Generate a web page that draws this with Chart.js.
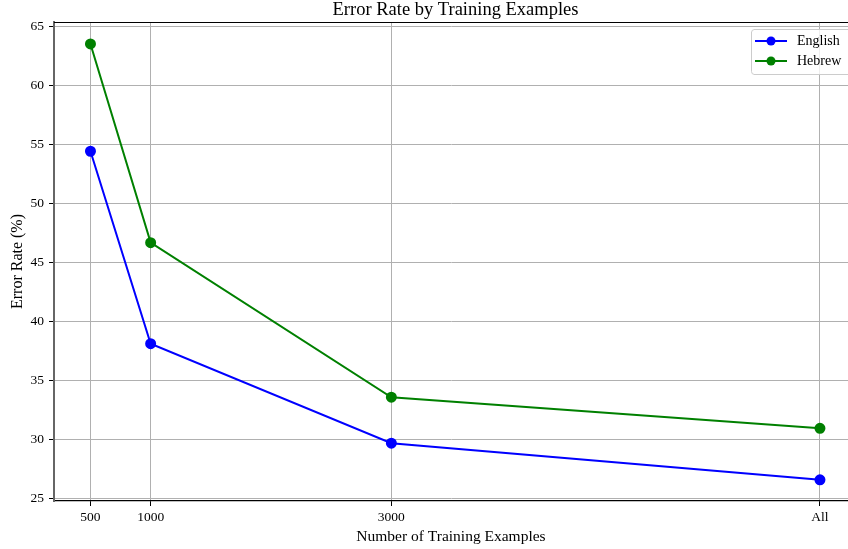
<!DOCTYPE html>
<html><head><meta charset="utf-8">
<script src="https://cdn.jsdelivr.net/npm/chart.js@4"></script>
<style>html,body{margin:0;padding:0;background:#fff;overflow:hidden;width:848px;height:549px}</style>
</head><body><canvas id="c" width="848" height="549"></canvas>
<script>
const categories = ["500", "1000", "3000", "All"];
const xPositions = [500, 1000, 3000, 6561];
const english = [54.46, 38.14, 29.7, 26.6];
const hebrew = [63.56, 46.71, 33.6, 30.96];
const yTicks = [25, 30, 35, 40, 45, 50, 55, 60, 65];
const chartTitle = 'Error Rate by Training Examples';

const FONT = "'Liberation Serif', 'Times New Roman', serif";
const toPts = arr => arr.map((v, i) => ({x: xPositions[i], y: v}));

const decorations = {
  id: 'decorations',
  afterDraw(chart) {
    const {ctx, chartArea} = chart;
    ctx.save();
    // top spine
    ctx.strokeStyle = '#000';
    ctx.lineWidth = 1.2;
    ctx.beginPath();
    ctx.moveTo(chartArea.left, chartArea.top + 0.5);
    ctx.lineTo(chartArea.right, chartArea.top + 0.5);
    ctx.stroke();
    // title centred over the full (uncropped) plot area
    ctx.fillStyle = '#000';
    ctx.font = '18.5px ' + FONT;
    ctx.textAlign = 'center';
    ctx.textBaseline = 'middle';
    ctx.fillText(chartTitle, (chartArea.left + 857) / 2, 10);
    // legend box
    const bx = 751, by = 29, bw = 120, bh = 45, r = 3;
    ctx.fillStyle = 'rgba(255,255,255,0.8)';
    ctx.strokeStyle = '#cccccc';
    ctx.lineWidth = 1;
    ctx.beginPath();
    ctx.moveTo(bx + r, by + 0.5);
    ctx.lineTo(bx + bw - r, by + 0.5);
    ctx.arcTo(bx + bw, by + 0.5, bx + bw, by + r, r);
    ctx.lineTo(bx + bw, by + bh - r);
    ctx.arcTo(bx + bw, by + bh + 0.5, bx + bw - r, by + bh + 0.5, r);
    ctx.lineTo(bx + r, by + bh + 0.5);
    ctx.arcTo(bx + 0.5, by + bh + 0.5, bx + 0.5, by + bh - r, r);
    ctx.lineTo(bx + 0.5, by + r);
    ctx.arcTo(bx + 0.5, by + 0.5, bx + r, by + 0.5, r);
    ctx.closePath();
    ctx.fill();
    ctx.stroke();
    chart.data.datasets.forEach((d, i) => {
      const yy = 41 + i * 20;
      ctx.strokeStyle = d.borderColor;
      ctx.lineWidth = 2;
      ctx.beginPath();
      ctx.moveTo(755, yy);
      ctx.lineTo(787, yy);
      ctx.stroke();
      ctx.fillStyle = d.borderColor;
      ctx.beginPath();
      ctx.arc(771, yy, 4.5, 0, Math.PI * 2);
      ctx.fill();
      ctx.fillStyle = '#000';
      ctx.font = '14px ' + FONT;
      ctx.textBaseline = 'middle';
      ctx.textAlign = 'left';
      ctx.fillText(d.label, 797, yy + 0.5);
    });
    ctx.restore();
  }
};

new Chart(document.getElementById('c'), {
  type: 'line',
  data: {
    datasets: [
      {label: 'English', data: toPts(english), borderColor: '#0000ff', backgroundColor: '#0000ff',
       borderWidth: 2, pointRadius: 4.5, pointHoverRadius: 4.5, tension: 0},
      {label: 'Hebrew', data: toPts(hebrew), borderColor: '#008000', backgroundColor: '#008000',
       borderWidth: 2, pointRadius: 4.5, pointHoverRadius: 4.5, tension: 0}
    ]
  },
  options: {
    responsive: false,
    animation: false,
    layout: {autoPadding: false, padding: {top: 22, right: 0, left: 0, bottom: 0}},
    plugins: {
      title: {display: false},
      legend: {display: false},
      tooltip: {enabled: false}
    },
    scales: {
      x: {
        type: 'linear', min: 197, max: 6794,
        afterBuildTicks(s) { s.ticks = xPositions.map(v => ({value: v})); },
        afterFit(s) { s.height = 48; s.paddingLeft = 0; s.paddingRight = 0; },
        ticks: {autoSkip: false, maxRotation: 0, color: '#000', font: {family: FONT, size: 13.5}, padding: 3,
                callback: (v, i) => categories[i]},
        grid: {color: '#b0b0b0', lineWidth: 1, tickColor: '#000', tickLength: 5, drawTicks: true},
        border: {color: '#000', width: 1.2},
        title: {display: true, text: 'Number of Training Examples', color: '#000',
                font: {family: FONT, size: 15.5}, padding: {top: 0, bottom: 3}}
      },
      y: {
        min: 24.8, max: 65.42,
        afterBuildTicks(s) { s.ticks = yTicks.map(v => ({value: v})); },
        afterFit(s) { s.width = 54; s.paddingTop = 0; s.paddingBottom = 0; },
        ticks: {color: '#000', font: {family: FONT, size: 13.5}, padding: 5},
        grid: {color: '#b0b0b0', lineWidth: 1, tickColor: '#000', tickLength: 5},
        border: {color: '#666', width: 2},
        title: {display: true, text: 'Error Rate (%)', color: '#000',
                font: {family: FONT, size: 16}, padding: {top: 8, bottom: 2}}
      }
    }
  },
  plugins: [decorations]
});
</script></body></html>
